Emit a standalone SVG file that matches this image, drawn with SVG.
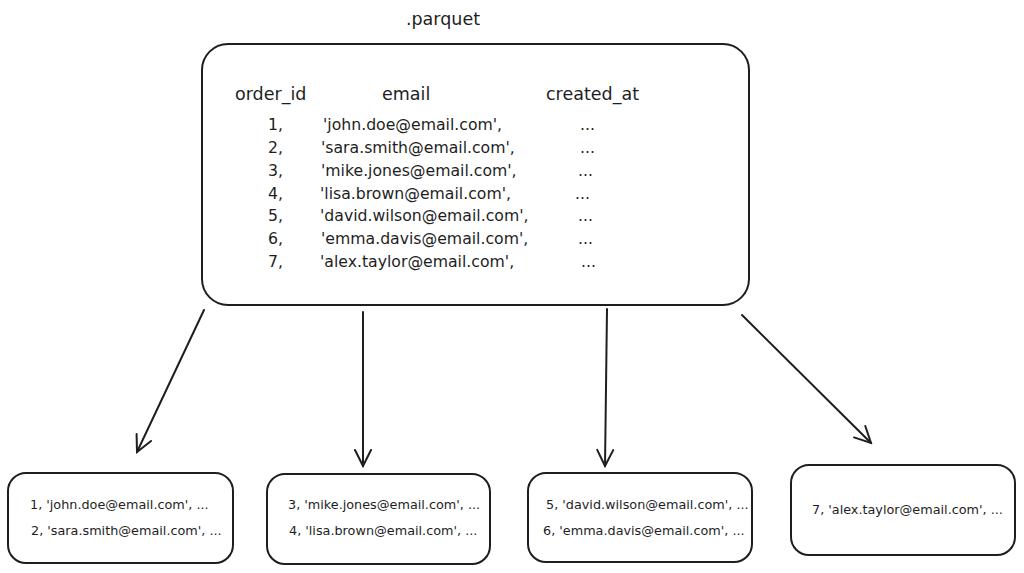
<svg xmlns="http://www.w3.org/2000/svg" width="1024" height="573" viewBox="0 0 1024 573">
<defs>
<style>
.box{fill:#fff;stroke:#1e1e1e;stroke-width:2}
.t{font-family:"DejaVu Sans","Liberation Sans",sans-serif;fill:#1e1e1e}
.h{font-size:17.5px}
.r{font-size:15.7px}
.s{font-size:12.8px}
.c{stroke:#1e1e1e;stroke-width:2;fill:none;stroke-linecap:round}
</style>
<marker id="ah" viewBox="0 0 20 20" refX="18" refY="10" markerWidth="20" markerHeight="20" markerUnits="userSpaceOnUse" orient="auto">
<path d="M2,2 L18,10 L2,18" fill="none" stroke="#1e1e1e" stroke-width="2" stroke-linecap="round"/>
</marker>
</defs>
<rect width="1024" height="573" fill="#fff"/>
<g id="main">
<text class="t" x="443" y="25" font-size="17.5" text-anchor="middle">.parquet</text>
<rect class="box" x="202" y="44" width="547" height="261" rx="26"/>
<text class="t h" x="235" y="100">order_id</text>
<text class="t h" x="382" y="100">email</text>
<text class="t h" x="546" y="100">created_at</text>
<g class="t r">
<text x="268" y="130">1,</text><text x="323" y="130">'john.doe@email.com',</text><text x="580" y="130">...</text>
<text x="268" y="153">2,</text><text x="321" y="153">'sara.smith@email.com',</text><text x="580" y="153">...</text>
<text x="268" y="176">3,</text><text x="321" y="176">'mike.jones@email.com',</text><text x="578" y="176">...</text>
<text x="268" y="199">4,</text><text x="320" y="199">'lisa.brown@email.com',</text><text x="575" y="199">...</text>
<text x="268" y="221">5,</text><text x="320" y="221">'david.wilson@email.com',</text><text x="578" y="221">...</text>
<text x="268" y="244">6,</text><text x="321" y="244">'emma.davis@email.com',</text><text x="578" y="244">...</text>
<text x="268" y="267">7,</text><text x="320" y="267">'alex.taylor@email.com',</text><text x="581" y="267">...</text>
</g>
</g>
<g id="connectors">
<line class="c" x1="204" y1="310" x2="137" y2="452" marker-end="url(#ah)"/>
<line class="c" x1="363" y1="312" x2="363" y2="466" marker-end="url(#ah)"/>
<line class="c" x1="607" y1="309" x2="605" y2="466" marker-end="url(#ah)"/>
<line class="c" x1="742" y1="315" x2="871" y2="443" marker-end="url(#ah)"/>
</g>
<g id="part1">
<rect class="box" x="8" y="473" width="225" height="90" rx="18"/>
<text class="t s" x="30" y="509">1, 'john.doe@email.com',  ...</text>
<text class="t s" x="31" y="535">2, 'sara.smith@email.com', ...</text>
</g>
<g id="part2">
<rect class="box" x="267" y="474" width="223" height="90" rx="18"/>
<text class="t s" x="288" y="509">3, 'mike.jones@email.com',  ...</text>
<text class="t s" x="289" y="535">4, 'lisa.brown@email.com', ...</text>
</g>
<g id="part3">
<rect class="box" x="528" y="473" width="224" height="89" rx="18"/>
<text class="t s" x="546" y="509">5, 'david.wilson@email.com', ...</text>
<text class="t s" x="543" y="535">6, 'emma.davis@email.com', ...</text>
</g>
<g id="part4">
<rect class="box" x="791" y="465" width="224" height="90" rx="18"/>
<text class="t s" x="812" y="514">7, 'alex.taylor@email.com', ...</text>
</g>
</svg>
